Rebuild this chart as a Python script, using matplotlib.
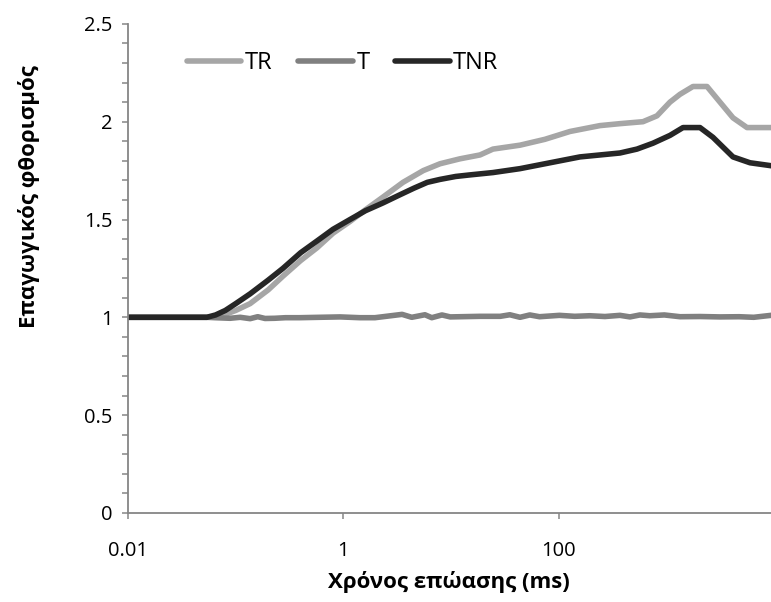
import numpy as np
import matplotlib
matplotlib.use("Agg")
import matplotlib.pyplot as plt
from matplotlib.ticker import FixedLocator, MultipleLocator, NullLocator

plt.rcParams['font.family'] = ['Open Sans', 'DejaVu Sans']

# Datos (tiempo en ms, fluorescencia relativa)
t_tr = [0.01, 0.054, 0.065, 0.08, 0.1, 0.136, 0.2, 0.274, 0.4, 0.567, 0.8, 1.15, 1.6,
        2.33, 3.57, 5.5, 7.87, 12, 18.5, 24.4, 43.5, 74.1, 126.5, 240, 368, 602, 812,
        1072, 1328, 1753, 2366, 3120, 4120, 5560, 9290, 10000]
tr = [1.0, 1.0, 1.003, 1.015, 1.035, 1.07, 1.14, 1.21, 1.29, 1.355, 1.43, 1.49, 1.55,
      1.615, 1.69, 1.75, 1.785, 1.81, 1.83, 1.86, 1.88, 1.91, 1.95, 1.98, 1.99, 2.0, 2.03,
      2.10, 2.14, 2.18, 2.18, 2.10, 2.02, 1.97, 1.97, 1.97]

t_tnr = [0.01, 0.054, 0.065, 0.08, 0.1, 0.136, 0.2, 0.274, 0.4, 0.567, 0.8, 1.15, 1.6,
         2.33, 3.3, 4.5, 6, 7.87, 11, 14.9, 24.4, 43.5, 126.5, 156.7, 368, 530, 745,
         1072, 1416, 2037, 2688, 4120, 5930, 9290, 10000]
tnr = [1.0, 1.0, 1.012, 1.035, 1.07, 1.12, 1.19, 1.25, 1.33, 1.39, 1.45, 1.50, 1.545,
       1.585, 1.625, 1.66, 1.69, 1.705, 1.72, 1.728, 1.74, 1.76, 1.81, 1.82, 1.84, 1.86,
       1.89, 1.93, 1.97, 1.97, 1.92, 1.82, 1.79, 1.775, 1.775]

t_t = [0.01, 0.054, 0.064, 0.0885, 0.11, 0.136, 0.16, 0.187, 0.23, 0.29, 0.39, 0.6,
       0.93, 1.42, 1.96, 3.5, 4.3, 5.7, 6.6, 8.2, 9.8, 18.5, 28.5, 35, 43.5, 53.6,
       66, 101, 140, 193, 267, 368, 456, 564, 697, 950, 1330, 2040, 3120, 4700,
       6420, 9290, 10000]
t_vals = [1.0, 1.0, 0.998, 0.995, 1.0, 0.993, 1.003, 0.994, 0.995, 0.998, 0.998, 1.0,
          1.002, 0.998, 0.998, 1.015, 1.0, 1.013, 0.998, 1.012, 1.002, 1.005, 1.005,
          1.013, 1.0, 1.012, 1.003, 1.01, 1.005, 1.008, 1.004, 1.01, 1.002, 1.012,
          1.008, 1.012, 1.003, 1.004, 1.002, 1.003, 1.0, 1.01, 1.01]

x_ticks = [0.01, 1, 100, 10000]
x_labels = ['0.01', '1', '100', '']

fig = plt.figure(figsize=(7.71, 6.02), dpi=100)
ax = fig.add_axes([0.166, 0.148, 0.8385, 0.8123])

lw = 4
ax.plot(t_tr, tr, color='#a6a6a6', lw=lw, solid_capstyle='round', label='TR')
ax.plot(t_t, t_vals, color='#808080', lw=lw, solid_capstyle='round', label='T')
ax.plot(t_tnr, tnr, color='#262626', lw=lw, solid_capstyle='round', label='TNR')

ax.set_xscale('log')
ax.set_xlim(0.01, 10000)
ax.set_ylim(0, 2.5)

gris = '#868686'
for s in ['top', 'right']:
    ax.spines[s].set_visible(False)
for s in ['left', 'bottom']:
    ax.spines[s].set_color(gris)
    ax.spines[s].set_linewidth(1.3)

ax.xaxis.set_major_locator(FixedLocator(x_ticks))
ax.xaxis.set_minor_locator(NullLocator())
ax.set_xticklabels(x_labels)
ax.yaxis.set_major_locator(MultipleLocator(0.5))
ax.yaxis.set_minor_locator(MultipleLocator(0.1))
ax.set_yticks([0, 0.5, 1, 1.5, 2, 2.5])
ax.set_yticklabels(['0', '0.5', '1', '1.5', '2', '2.5'])

ax.tick_params(axis='both', which='both', direction='out', color=gris, width=1.1,
               labelsize=14.5, labelcolor='black')
ax.tick_params(axis='y', which='both', length=4, pad=7)
ax.tick_params(axis='x', which='major', length=4, pad=16)

fig.text(0.5825, 1 - 582 / 602, 'Χρόνος επώασης (ms)', ha='center', va='center',
         fontsize=16, fontweight='bold')
fig.text(29 / 771, 1 - 197 / 602, 'Επαγωγικός φθορισμός', ha='center', va='center',
         rotation=90, fontsize=16, fontweight='bold')

ax.legend(loc='center left', bbox_to_anchor=(187 / 771, 1 - 63 / 602),
          bbox_transform=fig.transFigure, ncol=3, frameon=False, fontsize=17,
          handlelength=2.3, handletextpad=0.15, columnspacing=1.1, borderpad=0,
          borderaxespad=0)

fig.savefig('out.png', dpi=100)
